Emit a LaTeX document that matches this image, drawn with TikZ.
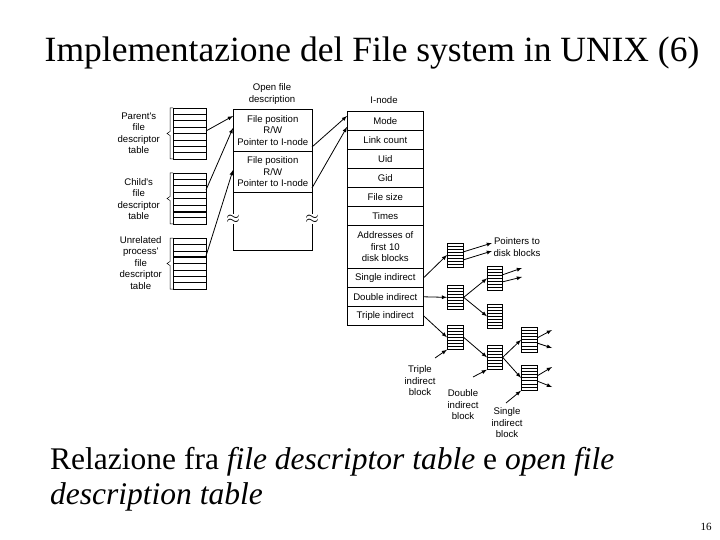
\documentclass[tikz,border=0pt]{standalone}
\usepackage{fontspec}
\setmainfont{Liberation Serif}
\newfontfamily\sansf{Liberation Sans}
\begin{document}
\begin{tikzpicture}[x=1pt,y=-1pt,
  lbl/.style={font=\sansf\fontsize{9.6}{11.5}\selectfont,align=center,inner sep=0pt},
  cell/.style={draw,line width=0.6pt,font=\sansf\fontsize{9.6}{11.5}\selectfont,align=center,inner sep=0pt,anchor=north west},
  arr/.style={-latex,line width=0.8pt}]
\useasboundingbox (0,0) rectangle (720,540);
\newcommand\myblk[6]{% name x y w h n
  \node[draw,line width=0.7pt,minimum width=#4pt,minimum height=#5pt,inner sep=0pt,anchor=north west] (#1) at (#2,#3) {};
  \foreach \k in {1,...,\numexpr#6-1\relax}{\draw[line width=0.5pt] (#2,#3+\k*#5/#6) -- (#2+#4,#3+\k*#5/#6);}
}
\newcommand\mybrace[3]{% x y1 y2
  \draw[line width=0.5pt] (#1+3,#2) -- (#1,#2) -- (#1,#2/2+#3/2-2) -- (#1-3,#2/2+#3/2) -- (#1,#2/2+#3/2+2) -- (#1,#3) -- (#1+3,#3);}
% title
\node[font=\fontsize{35.5}{38}\selectfont,inner sep=0pt] (title) at (372,53) {Implementazione del File system in UNIX (6)};
% fd tables
\myblk{par}{173}{108}{33}{51}{8}
\myblk{chi}{173}{173}{33}{51}{8}
\myblk{unr}{173}{238}{33}{51}{8}
\draw[line width=1.2pt] (173,133.5) -- (206,133.5);
\draw[line width=1.2pt] (173,212) -- (206,212);
\draw[line width=1.2pt] (173,257) -- (206,257);
\mybrace{170}{108}{159}
\mybrace{170}{173}{224}
\mybrace{170}{238}{289}
\node[lbl,anchor=east] (parl) at (160,133) {Parent's\\file\\descriptor\\table};
\node[lbl,anchor=east] (chil) at (160,199) {Child's\\file\\descriptor\\table};
\node[lbl,anchor=east] (unrl) at (162,263) {Unrelated\\process'\\file\\descriptor\\table};
% open file description
\node[lbl] (ofdt) at (272,94) {Open file\\description};
\node[draw,line width=0.7pt,minimum width=79pt,minimum height=141pt,anchor=north west,inner sep=0pt] (ofd) at (233,109) {};
\node[cell,minimum width=79pt,minimum height=42pt] (e1) at (233,109) {File position\\R/W\\Pointer to I-node};
\node[cell,minimum width=79pt,minimum height=41pt] (e2) at (233,151) {File position\\R/W\\Pointer to I-node};
\node[fill=white,inner sep=0.5pt,font=\fontsize{16}{16}\selectfont] (w1) at (233,219) {$\approx$};
\node[fill=white,inner sep=0.5pt,font=\fontsize{16}{16}\selectfont] (w2) at (312,219) {$\approx$};
% i-node
\node[lbl] (inodet) at (384,100) {I-node};
\node[cell,minimum width=76pt,minimum height=19pt] (mode) at (347,111) {Mode};
\node[cell,minimum width=76pt,minimum height=19pt] (link) at (347,130) {Link count};
\node[cell,minimum width=76pt,minimum height=19pt] (uid) at (347,149) {Uid};
\node[cell,minimum width=76pt,minimum height=19pt] (gid) at (347,168) {Gid};
\node[cell,minimum width=76pt,minimum height=19pt] (fsz) at (347,187) {File size};
\node[cell,minimum width=76pt,minimum height=19pt] (tim) at (347,206) {Times};
\node[cell,minimum width=76pt,minimum height=43pt] (addr) at (347,225) {Addresses of\\first 10\\disk blocks};
\node[cell,minimum width=76pt,minimum height=19pt] (sgl) at (347,268) {Single indirect};
\node[cell,minimum width=76pt,minimum height=19pt] (dbl) at (347,287) {Double indirect};
\node[cell,minimum width=76pt,minimum height=19pt] (tpl) at (347,306) {Triple indirect};
% blocks
\myblk{b1}{447}{243}{16}{24}{8}
\myblk{b2}{447}{285}{16}{24}{8}
\myblk{b3}{447}{325}{16}{24}{8}
\myblk{c1}{487}{266}{15}{24}{8}
\myblk{c2}{487}{304}{15}{24}{8}
\myblk{c3}{487}{345}{15}{24}{8}
\myblk{d1}{521}{327}{16}{25}{8}
\myblk{d2}{521}{365}{16}{25}{8}
% connectors
\coordinate (s1) at (206,131); \coordinate (t1) at (233,116);
\coordinate (s2) at (206,190); \coordinate (t2) at (233,128);
\coordinate (s3) at (206,256); \coordinate (t3) at (233,170);
\coordinate (s4) at (312,147); \coordinate (t4) at (347,116);
\coordinate (s5) at (312,188); \coordinate (t5) at (347,127);
\draw[arr] (s1) -- (t1);
\draw[arr] (s2) -- (t2);
\draw[arr] (s3) -- (t3);
\draw[arr] (s4) -- (t4);
\draw[arr] (s5) -- (t5);
\coordinate (t6) at (447,255);
\draw[arr] (sgl.east) -- (t6);
\draw[arr] (dbl.east) -- (b2.west);
\draw[arr] (tpl.east) -- (b3.west);
\coordinate (u1) at (463,252); \coordinate (u2) at (463,260);
\coordinate (p1) at (492,243); \coordinate (p2) at (492,251);
\draw[arr] (u1) -- (p1);
\draw[arr] (u2) -- (p2);
\draw[arr] (b2.east) -- (c1.west);
\draw[arr] (b2.east) -- (c2.west);
\coordinate (v1) at (502,275); \coordinate (v2) at (502,282);
\coordinate (q1) at (522,268); \coordinate (q2) at (522,277);
\draw[arr] (v1) -- (q1);
\draw[arr] (v2) -- (q2);
\draw[arr] (b3.east) -- (c3.west);
\draw[arr] (c3.east) -- (d1.west);
\draw[arr] (c3.east) -- (d2.west);
\coordinate (w3) at (537,338); \coordinate (w4) at (537,343);
\coordinate (w5) at (537,376); \coordinate (w6) at (537,381);
\coordinate (r1) at (552,330); \coordinate (r2) at (552,348);
\coordinate (r3) at (552,367); \coordinate (r4) at (552,387);
\draw[arr] (w3) -- (r1);
\draw[arr] (w4) -- (r2);
\draw[arr] (w5) -- (r3);
\draw[arr] (w6) -- (r4);
\node[lbl] (ptl) at (517,247) {Pointers to\\disk blocks};
\node[lbl] (tl) at (420,381) {Triple\\indirect\\block};
\node[lbl] (dl) at (463,405) {Double\\indirect\\block};
\node[lbl] (sl) at (507,423) {Single\\indirect\\block};
\coordinate (x1) at (435,358); \coordinate (x2) at (473,377); \coordinate (x3) at (506,403);
\draw[arr] (x1) -- (b3.south west);
\draw[arr] (x2) -- (c3.south west);
\draw[arr] (x3) -- (d2.south west);
% bottom text
\node[font=\fontsize{31.5}{35}\selectfont,align=left,anchor=west,inner sep=0pt] (cap) at (50,479) {Relazione fra \textit{file descriptor table} e \textit{open file}\\ \textit{description table}};
\node[font=\fontsize{11}{11}\selectfont,inner sep=0pt] (pg) at (706,527) {16};
\end{tikzpicture}
\end{document}
